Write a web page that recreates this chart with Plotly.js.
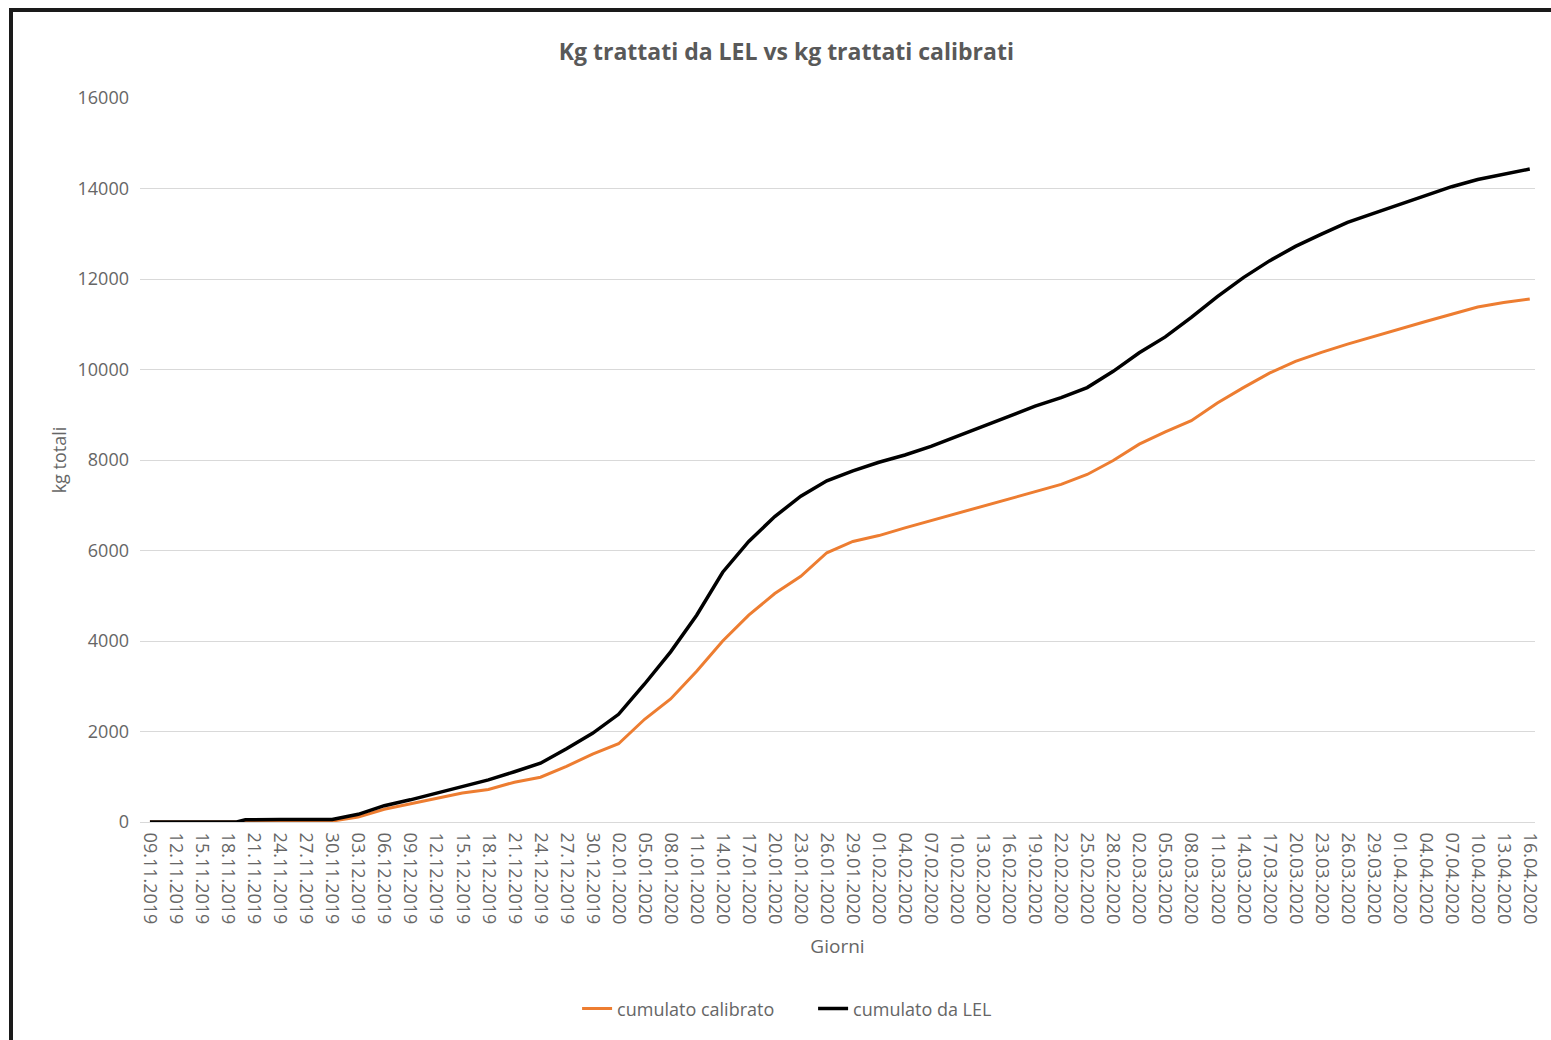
<!DOCTYPE html>
<html>
<head>
<meta charset="utf-8">
<script src="https://cdn.plot.ly/plotly-3.0.1.min.js"></script>
<style>
  html, body { margin: 0; padding: 0; background: #fff; overflow: hidden; }
  #chart { position: absolute; left: 0; top: 0; width: 1551px; height: 1040px; }
  #frame { position: absolute; left: 9px; top: 8px; width: 1700px; height: 1200px;
           border-left: 4px solid #1a1a1a; border-top: 4px solid #1a1a1a; pointer-events: none; }
</style>
</head>
<body>
<div id="chart"></div>
<div id="frame"></div>
<script>
// ---- data ----
const dates = [
  "2019-11-09","2019-11-12","2019-11-15","2019-11-18","2019-11-19","2019-11-20","2019-11-21",
  "2019-11-24","2019-11-27","2019-11-30","2019-12-03","2019-12-06","2019-12-09","2019-12-12",
  "2019-12-15","2019-12-18","2019-12-21","2019-12-24","2019-12-27","2019-12-30","2020-01-02",
  "2020-01-05","2020-01-08","2020-01-11","2020-01-14","2020-01-17","2020-01-20","2020-01-23",
  "2020-01-26","2020-01-29","2020-02-01","2020-02-04","2020-02-07","2020-02-10","2020-02-13",
  "2020-02-16","2020-02-19","2020-02-22","2020-02-25","2020-02-28","2020-03-02","2020-03-05",
  "2020-03-08","2020-03-11","2020-03-14","2020-03-17","2020-03-20","2020-03-23","2020-03-26",
  "2020-03-29","2020-04-01","2020-04-04","2020-04-07","2020-04-10","2020-04-13","2020-04-16"
];
const cumulatoCalibrato = [
  0, 0, 0, 0, 0, 0, 0,
  0, 0, 20, 110, 280, 400, 530,
  640, 720, 880, 990, 1230, 1500, 1730,
  2270, 2720, 3330, 4000, 4570, 5050, 5430,
  5950, 6200, 6330, 6500, 6660, 6820, 6980,
  7130, 7290, 7460, 7680, 7990, 8350, 8620,
  8870, 9260, 9600, 9920, 10180, 10380, 10560,
  10730, 10900, 11060, 11220, 11380, 11480, 11560
];
const cumulatoLEL = [
  0, 0, 0, 0, 0, 50, 55,
  55, 55, 55, 170, 360, 490, 640,
  780, 930, 1110, 1300, 1620, 1960, 2380,
  3050, 3760, 4570, 5520, 6200, 6750, 7200,
  7540, 7760, 7950, 8110, 8300, 8520, 8730,
  8960, 9190, 9380, 9600, 9960, 10370, 10720,
  11150, 11610, 12030, 12400, 12720, 12990, 13250,
  13450, 13650, 13840, 14040, 14200, 14320, 14430
];
const seriesNames = ["cumulato calibrato", "cumulato da LEL"];
const chartTitle = "Kg trattati da LEL vs kg trattati calibrati";
const xTitle = "Giorni";
const yTitle = "kg totali";

const FONT = "'Open Sans', 'DejaVu Sans', sans-serif";
const GREY = "#666666";

const traces = [
  { x: dates, y: cumulatoCalibrato, name: seriesNames[0], type: "scatter", mode: "lines",
    line: { color: "#ED7D31", width: 3 } },
  { x: dates, y: cumulatoLEL, name: seriesNames[1], type: "scatter", mode: "lines",
    line: { color: "#000000", width: 3.5 } }
];

const layout = {
  width: 1551, height: 1040,
  paper_bgcolor: "rgba(0,0,0,0)", plot_bgcolor: "#ffffff",
  margin: { l: 140, r: 16, t: 98, b: 218 },
  font: { family: FONT, color: GREY },
  title: { text: "<b>" + chartTitle + "</b>", x: 0.507, xref: "container", xanchor: "center",
           y: 0.95, yref: "container", yanchor: "middle",
           font: { family: FONT, size: 23, color: "#595959" } },
  xaxis: {
    type: "date",
    range: ["2019-11-07 20:30", "2020-04-16 14:30"],
    tick0: "2019-11-09", dtick: 3 * 86400000,
    tickformat: "%d.%m.%Y", tickangle: 90,
    tickfont: { family: FONT, size: 18, color: GREY },
    ticklabelstandoff: 6,
    showgrid: false, zeroline: false,
    showline: true, linecolor: "#d9d9d9", linewidth: 1,
    ticks: "",
    title: { text: xTitle, font: { family: FONT, size: 19, color: GREY }, standoff: 16 }
  },
  yaxis: {
    range: [0, 16000], dtick: 2000, tickformat: "d",
    tickfont: { family: FONT, size: 18, color: GREY },
    showgrid: true, gridcolor: "#d9d9d9", gridwidth: 1,
    zeroline: false, showline: false, ticks: "",
    ticklabelstandoff: 10,
    title: { text: yTitle, font: { family: FONT, size: 18, color: GREY }, standoff: 6 }
  },
  showlegend: true,
  legend: { orientation: "h", x: 0.4825, xanchor: "center", y: -0.258, yanchor: "middle",
            entrywidth: 191, entrywidthmode: "pixels",
            font: { family: FONT, size: 18, color: GREY }, bgcolor: "rgba(0,0,0,0)" }
};

Plotly.newPlot("chart", traces, layout, { displayModeBar: false, staticPlot: true });
</script>
</body>
</html>
